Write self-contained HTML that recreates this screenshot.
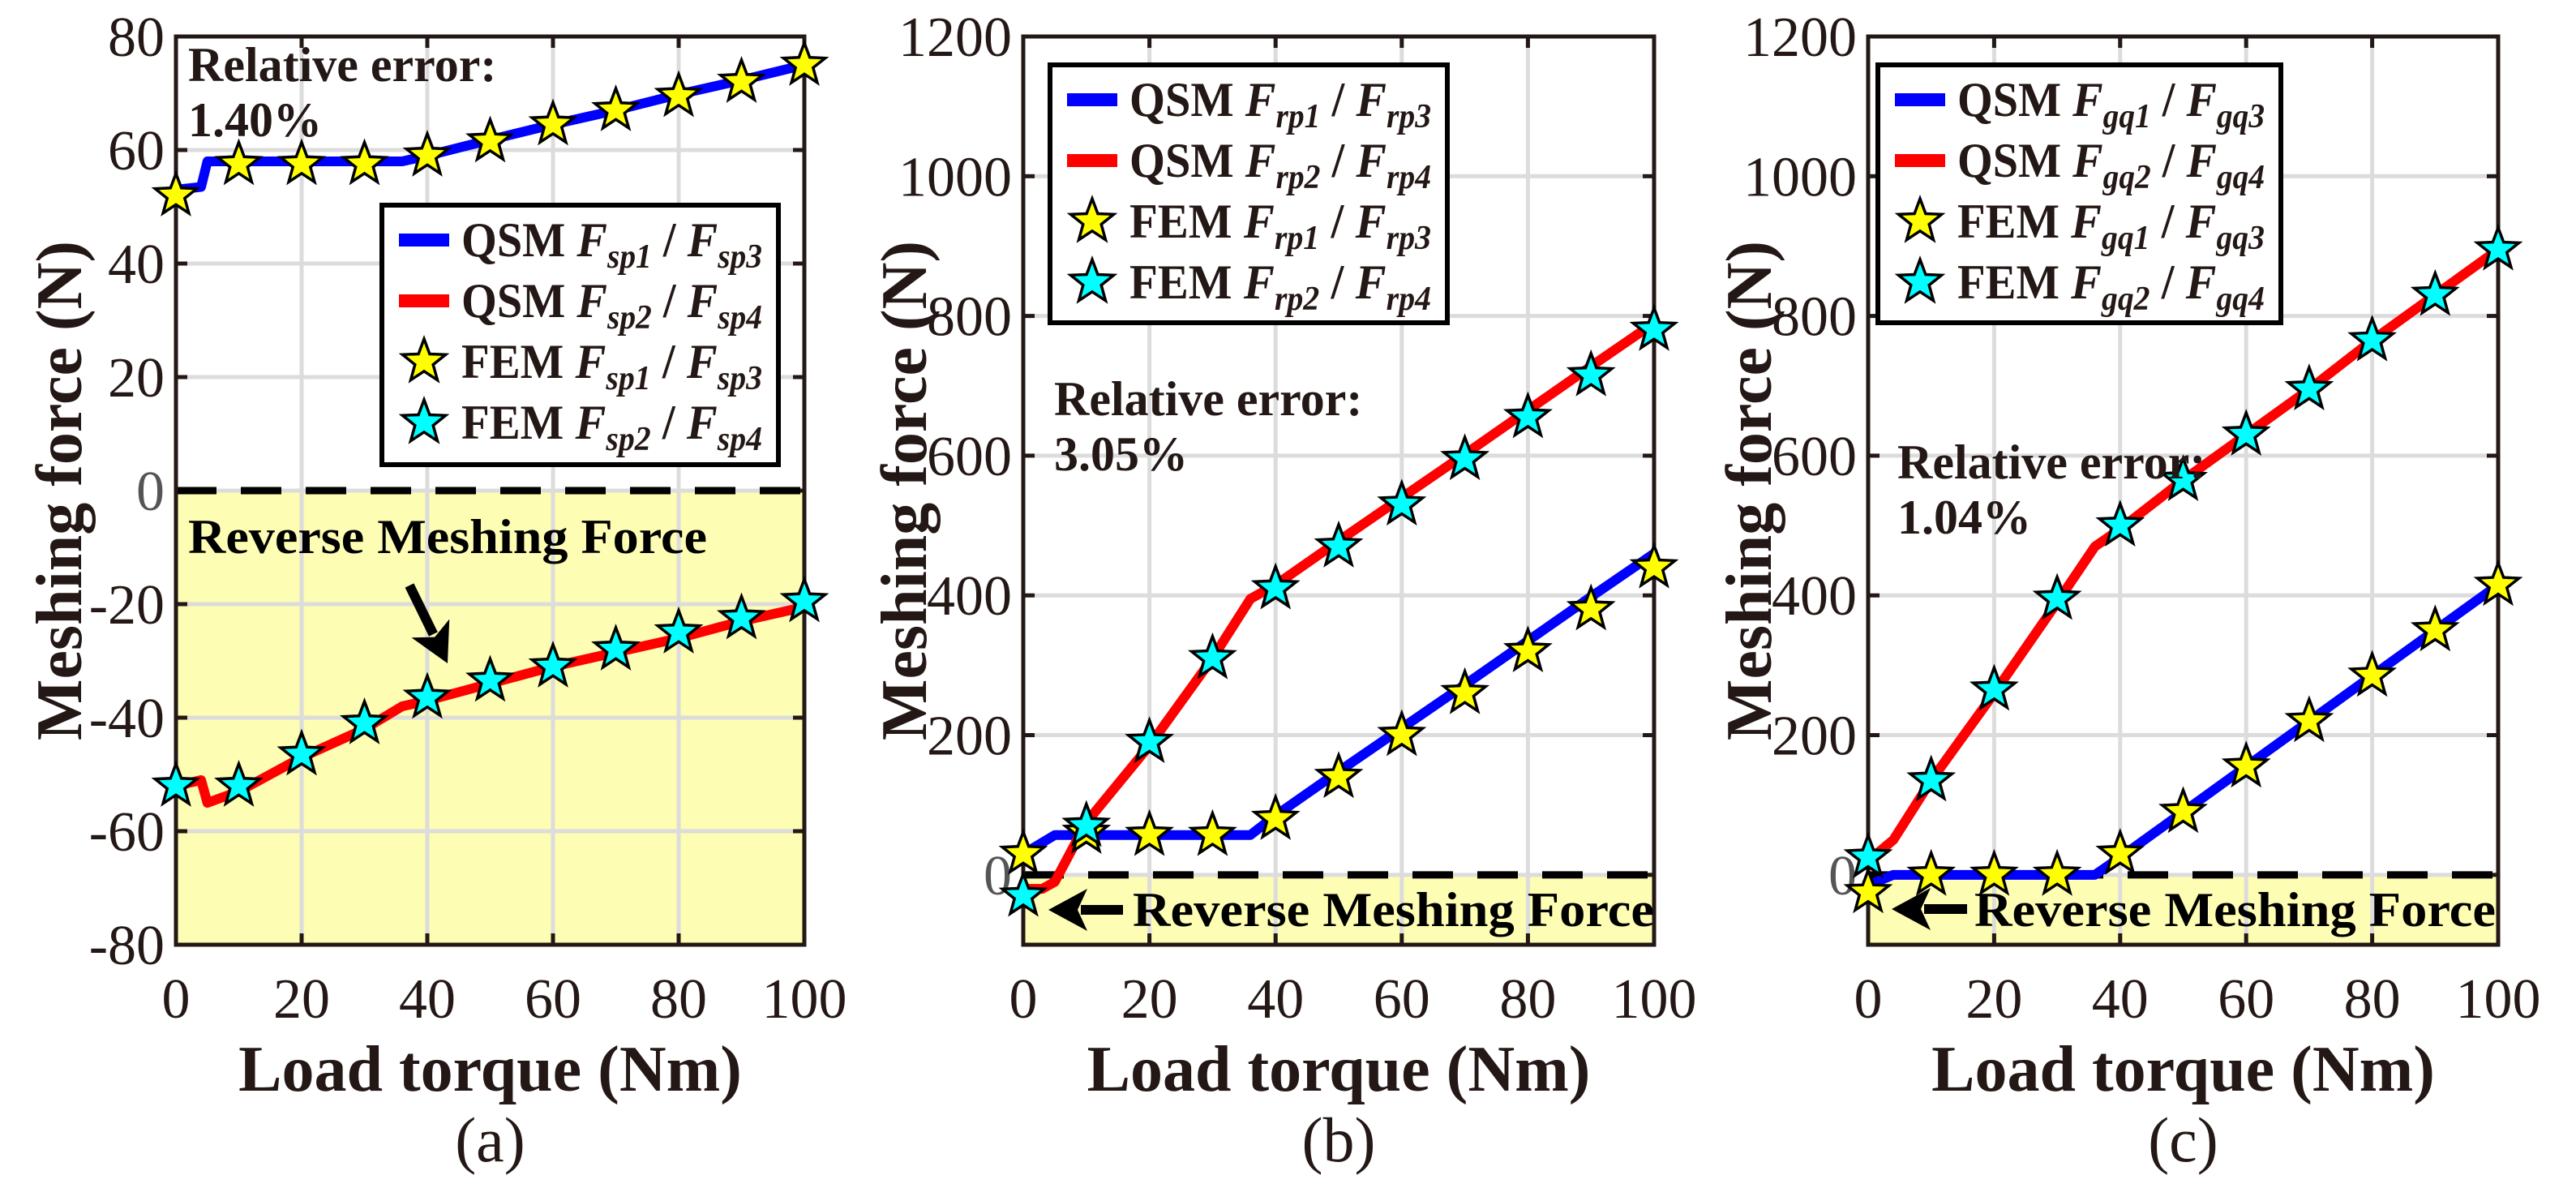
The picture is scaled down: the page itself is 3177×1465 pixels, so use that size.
<!DOCTYPE html>
<html><head><meta charset="utf-8"><style>
html,body{margin:0;padding:0;background:#fff;}
svg, svg text{font-family:"Liberation Serif","Times New Roman","DejaVu Serif",serif;}
svg{display:block;}
</style></head><body>
<svg id="fig" width="3177" height="1465" viewBox="0 0 3177 1465" xmlns="http://www.w3.org/2000/svg" font-family="Liberation Serif, Times New Roman, serif"></svg>
<script>
const xTicks=[0,20,40,60,80,100];
const femX=[0,10,20,30,40,50,60,70,80,90,100];
// panel a
const aBlueX=[0,4,5,36,40,50,60,70,80,90,100];
const aBlueY=[53,53.5,58,58,59,61.8,64.5,67,69.8,72.3,75];
const aRedX=[0,4,5,10,20,30,36,40,50,60,70,80,90,100];
const aRedY=[-52,-51,-55,-53,-47,-42,-38,-37,-34,-31,-28.5,-26,-23,-20.5];
const aFem1=[52,57.5,57.5,57.5,59,61.5,64.5,67,69.5,72,75];
const aFem2=[-52,-52,-46.5,-41,-36.5,-33.5,-31,-28,-25,-22.5,-19.5];
const aYTicks=[80,60,40,20,0,-20,-40,-60,-80];
// panel b
const bBlueX=[0,5,36,40,50,60,70,80,90,100];
const bBlueY=[30,57,57,85,148,210,272,335,398,460];
const bRedX=[0,3,5,10,20,30,36,40,50,60,70,80,90,100];
const bRedY=[-20,-20,-10,75,185,310,395,415,478,540,602,665,728,790];
const bFem1=[30,60,57,57,80,140,200,260,320,380,440];
const bFem2=[-30,70,190,310,410,470,530,595,655,715,780];
const bcYTicks=[1200,1000,800,600,400,200,0];
// panel c
const cBlueX=[0,4,36,40,50,60,70,80,90,100];
const cBlueY=[-15,0,0,25,90,155,220,285,350,415];
const cRedX=[0,4,10,20,30,36,40,50,60,70,80,90,100];
const cRedY=[20,50,135,260,390,470,495,565,630,695,765,830,895];
const cFem1=[-25,0,0,0,30,90,155,220,285,350,415];
const cFem2=[25,135,265,395,500,565,630,695,765,830,895];

const NS="http://www.w3.org/2000/svg";
const svg=document.getElementById('fig');
function mk(tag,attrs,parent){const e=document.createElementNS(NS,tag);for(const k in attrs)e.setAttribute(k,attrs[k]);(parent||svg).appendChild(e);return e;}
function starPts(cx,cy,R){const r=R*0.42;let p=[];for(let i=0;i<10;i++){const a=-Math.PI/2+i*Math.PI/5;const rr=i%2?r:R;p.push((cx+rr*Math.cos(a)).toFixed(1)+','+(cy+rr*Math.sin(a)).toFixed(1));}return p.join(' ');}

function panel(cfg){
  const g=mk('g',{});
  
  
  const L=cfg.L,R=cfg.R,T=45,B=1165;
  const sx=v=>L+(v-0)/100*(R-L);
  const sy=v=>B-(v-cfg.ymin)/(cfg.ymax-cfg.ymin)*(B-T);
  const yr=mk('rect',{x:L,y:sy(0),width:R-L,height:B-sy(0),fill:'#fdfdb4'},g);
  
  
  xTicks.forEach(t=>{if(t>0&&t<100){const l=mk('line',{x1:sx(t),x2:sx(t),y1:T,y2:B,stroke:'#dcdcdc','stroke-width':5},g);}});
  cfg.yTicks.forEach(t=>{if(t>cfg.ymin&&t<cfg.ymax){const l=mk('line',{x1:L,x2:R,y1:sy(t),y2:sy(t),stroke:'#dcdcdc','stroke-width':5},g);}});
  xTicks.forEach(t=>{mk('line',{x1:sx(t),x2:sx(t),y1:B,y2:B-14,stroke:'#231815','stroke-width':5},g);mk('line',{x1:sx(t),x2:sx(t),y1:T,y2:T+14,stroke:'#231815','stroke-width':5},g);
    const tx=mk('text',{x:sx(t),y:1255,'font-size':70,'text-anchor':'middle',fill:'#231815'},g);tx.textContent=t;
    });
  cfg.yTicks.forEach(t=>{mk('line',{x1:L,x2:L+14,y1:sy(t),y2:sy(t),stroke:'#231815','stroke-width':5},g);mk('line',{x1:R,x2:R-14,y1:sy(t),y2:sy(t),stroke:'#231815','stroke-width':5},g);
    const tx=mk('text',{x:L-14,y:sy(t)+24,'font-size':70,'text-anchor':'end',fill:t===0?'#555':'#231815'},g);tx.textContent=t;
    });
  const z=mk('line',{x1:L,x2:R,y1:sy(0),y2:sy(0),stroke:'#000','stroke-width':9,'stroke-dasharray':'50 30'},g);
  
  const fr=mk('rect',{x:L,y:T,width:R-L,height:B-T,fill:'none',stroke:'#231815','stroke-width':5},g);
  
  const line=(xs,ys,col,name)=>{const p=mk('polyline',{points:xs.map((x,i)=>sx(x)+','+sy(ys[i])).join(' '),fill:'none',stroke:col,'stroke-width':12,'stroke-linejoin':'round'},g);
    };
  const stars=(ys,col,name)=>{ys.forEach((v,i)=>{const s=mk('polygon',{points:starPts(sx(femX[i]),sy(v),27),fill:col,stroke:'#000','stroke-width':3.5},g);
    });};
  line(cfg.blueX,cfg.blueY,'#0000ff','qsm-line-1');
  line(cfg.redX,cfg.redY,'#ff0000','qsm-line-2');
  stars(cfg.fem1,'#ffff00','fem-star-1');
  stars(cfg.fem2,'#00ffff','fem-star-2');
  const xl=mk('text',{x:(L+R)/2,y:1345,'font-size':80,'font-weight':'bold','text-anchor':'middle',fill:'#231815'},g);xl.textContent='Load torque (Nm)';
  
  const yl=mk('text',{x:0,y:0,'font-size':80,'font-weight':'bold','text-anchor':'middle',fill:'#231815',transform:`translate(${cfg.ylx},${(T+B)/2}) rotate(-90)`},g);yl.textContent='Meshing force (N)';
  
  const cap=mk('text',{x:(L+R)/2,y:1432,'font-size':78,'text-anchor':'middle',fill:'#231815'},g);cap.textContent='('+cfg.id+')';
  
  const re=mk('text',{x:cfg.reX,y:cfg.reY,'font-size':60,'font-weight':'bold',fill:'#231815'},g);re.textContent='Relative error:';
  
  const rv=mk('text',{x:cfg.reX,y:cfg.reY+68,'font-size':60,'font-weight':'bold',fill:'#231815'},g);rv.textContent=cfg.err;
  
  const rt=mk('text',{x:cfg.rvX,y:cfg.rvY,'font-size':cfg.rvFs,'font-weight':'bold',fill:'#000','textLength':cfg.rvW,'lengthAdjust':'spacingAndGlyphs'},g);rt.textContent='Reverse Meshing Force';
  
  const [x1,y1,x2,y2]=cfg.arrow;const ang=Math.atan2(y2-y1,x2-x1);const hl=48,hw=26;
  const bx=x2-hl*Math.cos(ang),by=y2-hl*Math.sin(ang);
  mk('line',{x1:x1,y1:y1,x2:bx+8*Math.cos(ang),y2:by+8*Math.sin(ang),stroke:'#000','stroke-width':12},g);
  const ah=mk('polygon',{points:`${x2},${y2} ${bx-hw*Math.sin(ang)},${by+hw*Math.cos(ang)} ${bx+12*Math.cos(ang)},${by+12*Math.sin(ang)} ${bx+hw*Math.sin(ang)},${by-hw*Math.cos(ang)}`,fill:'#000'},g);
  
  const [lx,ly,lw,lh]=cfg.leg;
  const lg=mk('g',{},g);
  mk('rect',{x:lx,y:ly,width:lw,height:lh,fill:'#fff',stroke:'#000','stroke-width':6},lg);
  const rows=[['QSM',cfg.s[0],cfg.s[1],'line','#0000ff'],['QSM',cfg.s[2],cfg.s[3],'line','#ff0000'],['FEM',cfg.s[0],cfg.s[1],'star','#ffff00'],['FEM',cfg.s[2],cfg.s[3],'star','#00ffff']];
  rows.forEach((r,i)=>{const cy=ly+43+i*75;
    if(r[3]==='line'){mk('rect',{x:lx+21,y:cy-8,width:62,height:16,fill:r[4]},lg);}
    else{mk('polygon',{points:starPts(lx+52,cy,28),fill:r[4],stroke:'#000','stroke-width':3.5},lg);}
    const t=mk('text',{x:lx+98,y:cy+20,'font-size':60,fill:'#231815','textLength':lw-118,'lengthAdjust':'spacingAndGlyphs'},lg);
    
    t.innerHTML=`<tspan font-weight="bold">${r[0]} </tspan><tspan font-weight="bold" font-style="italic">F</tspan><tspan font-weight="bold" font-style="italic" font-size="42" dy="14">${r[1]}</tspan><tspan font-weight="bold" dy="-14"> / </tspan><tspan font-weight="bold" font-style="italic">F</tspan><tspan font-weight="bold" font-style="italic" font-size="42" dy="14">${r[2]}</tspan>`;
  });
}
panel({id:'a',L:217,R:992,ymin:-80,ymax:80,yTicks:aYTicks,blueX:aBlueX,blueY:aBlueY,redX:aRedX,redY:aRedY,fem1:aFem1,fem2:aFem2,ylx:100,
  reX:232,reY:100,err:'1.40%',rvX:232,rvY:682,rvFs:60,rvW:640,arrow:[505,722,552,818],leg:[471,253,489,320],s:['sp1','sp3','sp2','sp4']});
panel({id:'b',L:1262,R:2040,ymin:-100,ymax:1200,yTicks:bcYTicks,blueX:bBlueX,blueY:bBlueY,redX:bRedX,redY:bRedY,fem1:bFem1,fem2:bFem2,ylx:1142,
  reX:1300,reY:512,err:'3.05%',rvX:1397,rvY:1142,rvFs:60,rvW:643,arrow:[1385,1122,1293,1122],leg:[1295,80,490,318],s:['rp1','rp3','rp2','rp4']});
panel({id:'c',L:2304,R:3081,ymin:-100,ymax:1200,yTicks:bcYTicks,blueX:cBlueX,blueY:cBlueY,redX:cRedX,redY:cRedY,fem1:cFem1,fem2:cFem2,ylx:2184,
  reX:2340,reY:590,err:'1.04%',rvX:2435,rvY:1142,rvFs:60,rvW:643,arrow:[2426,1121,2333,1121],leg:[2316,80,497,318],s:['gq1','gq3','gq2','gq4']});
</script>
</body></html>
